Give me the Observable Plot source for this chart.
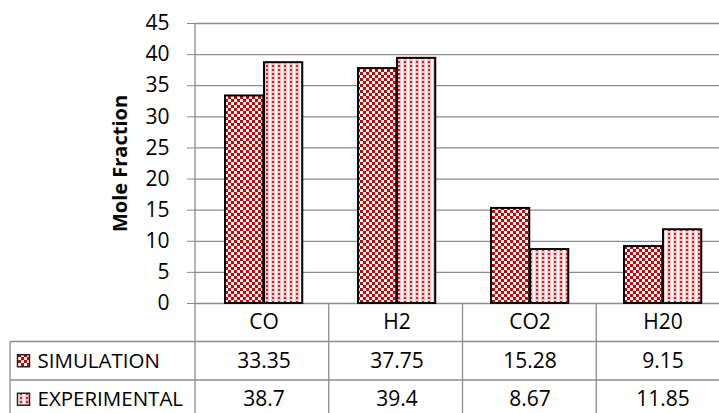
<!DOCTYPE html>
<html>
<head>
<meta charset="utf-8">
<script src="https://cdn.jsdelivr.net/npm/d3@7"></script>
<script src="https://cdn.jsdelivr.net/npm/@observablehq/plot@0.6"></script>
<style>
  html, body { margin: 0; padding: 0; background: #fff; }
  #chart svg { display: block; }
  [aria-label="y-axis tick"] { stroke: #898989; }
</style>
</head>
<body>
<div id="chart"></div>
<script>
// Gas composition: simulated vs. experimental mole fractions
const categories = ["CO", "H2", "CO2", "H20"];
const simulation = [33.35, 37.75, 15.28, 9.15];
const experimental = [38.7, 39.4, 8.67, 11.85];
const seriesNames = ["SIMULATION", "EXPERIMENTAL"];
const yTicks = [0, 5, 10, 15, 20, 25, 30, 35, 40, 45];

const simRows = categories.map((c, i) => ({category: c, value: simulation[i]}));
const expRows = categories.map((c, i) => ({category: c, value: experimental[i]}));

const W = 719, H = 413;
const plotLeft = 195, plotRight = 730, plotTop = 23, plotBottom = 303;
const rowH = 38.5;
const gridColor = "#8c8c8c";
const font = "'Open Sans', sans-serif";
const textSize = 21;

const cell = {frameAnchor: "bottom", textAnchor: "middle", lineAnchor: "middle", fontSize: textSize};
const rowLabel = {frameAnchor: "bottom-left", textAnchor: "start", lineAnchor: "middle", dx: 37 - plotLeft, fontSize: 20.5};

const chart = Plot.plot({
  width: W,
  height: H,
  marginLeft: plotLeft,
  marginRight: 0,
  marginTop: plotTop,
  marginBottom: H - plotBottom,
  style: {fontFamily: font, fontSize: `${textSize}px`, color: "black", background: "white"},
  x: {domain: categories, range: [plotLeft, plotRight], padding: 0, axis: null},
  y: {domain: [0, 45], axis: null},
  marks: [
    Plot.ruleY(yTicks, {stroke: gridColor, strokeWidth: 1.3}),
    Plot.axisY({ticks: yTicks, tickSize: 8, tickPadding: 18, label: null, fontSize: textSize}),
    Plot.barY(simRows, {x: "category", y: "value", fill: "url(#pat-sim)", stroke: "black", strokeWidth: 2,
      insetLeft: 28, insetRight: 66.75}),
    Plot.barY(expRows, {x: "category", y: "value", fill: "url(#pat-exp)", stroke: "black", strokeWidth: 2,
      insetLeft: 67, insetRight: 27.75}),
    Plot.text(["Mole Fraction"], {frameAnchor: "left", textAnchor: "middle", lineAnchor: "middle",
      dx: -75, rotate: -90, fontWeight: "bold", fontSize: 20}),
    // data table under the plot
    Plot.text(categories, {...cell, x: d => d, dy: rowH / 2}),
    Plot.text(simRows, {...cell, x: "category", text: d => String(d.value), dy: rowH * 1.5}),
    Plot.text(expRows, {...cell, x: "category", text: d => String(d.value), dy: rowH * 2.5}),
    Plot.text([seriesNames[0]], {...rowLabel, dy: rowH * 1.5}),
    Plot.text([seriesNames[1]], {...rowLabel, dy: rowH * 2.5})
  ]
});

document.getElementById("chart").appendChild(chart);

// fill patterns and table rules
const svg = d3.select(chart);
const defs = svg.insert("defs", ":first-child");

const sim = defs.append("pattern").attr("id", "pat-sim").attr("patternUnits", "userSpaceOnUse")
  .attr("width", 6).attr("height", 6);
sim.append("rect").attr("width", 6).attr("height", 6).attr("fill", "#fff");
sim.append("rect").attr("width", 3).attr("height", 3).attr("fill", "#d00000");
sim.append("rect").attr("x", 3).attr("y", 3).attr("width", 3).attr("height", 3).attr("fill", "#d00000");

const exp = defs.append("pattern").attr("id", "pat-exp").attr("patternUnits", "userSpaceOnUse")
  .attr("width", 6).attr("height", 4);
exp.append("rect").attr("width", 6).attr("height", 4).attr("fill", "#fff");
exp.append("rect").attr("x", 1).attr("y", 0).attr("width", 4).attr("height", 4).attr("fill", "#f6c4c4");
exp.append("rect").attr("x", 2).attr("y", 1).attr("width", 2).attr("height", 2).attr("fill", "#d82020");

const band = d3.scaleBand().domain(categories).range([plotLeft, plotRight]).padding(0);
const lines = svg.append("g").attr("stroke", gridColor).attr("stroke-width", 1.3).attr("fill", "none");
const hLine = (x1, x2, y) => lines.append("line").attr("x1", x1).attr("x2", x2).attr("y1", y).attr("y2", y);
const vLine = (x, y1, y2) => lines.append("line").attr("x1", x).attr("x2", x).attr("y1", y1).attr("y2", y2);

vLine(plotLeft, plotTop, H);
categories.forEach(c => vLine(band(c) + band.bandwidth(), plotBottom, H));
hLine(10, plotRight, plotBottom + rowH);
hLine(10, plotRight, plotBottom + 2 * rowH);
vLine(10, plotBottom + rowH, H);

// legend keys in the table
[["pat-sim", 0], ["pat-exp", 1]].forEach(([id, i]) => {
  svg.append("rect")
    .attr("x", 17.5).attr("y", plotBottom + rowH * (i + 1) + rowH / 2 - 6)
    .attr("width", 12).attr("height", 12)
    .attr("fill", `url(#${id})`).attr("stroke", "#222").attr("stroke-width", 1.5);
});
</script>
</body>
</html>
